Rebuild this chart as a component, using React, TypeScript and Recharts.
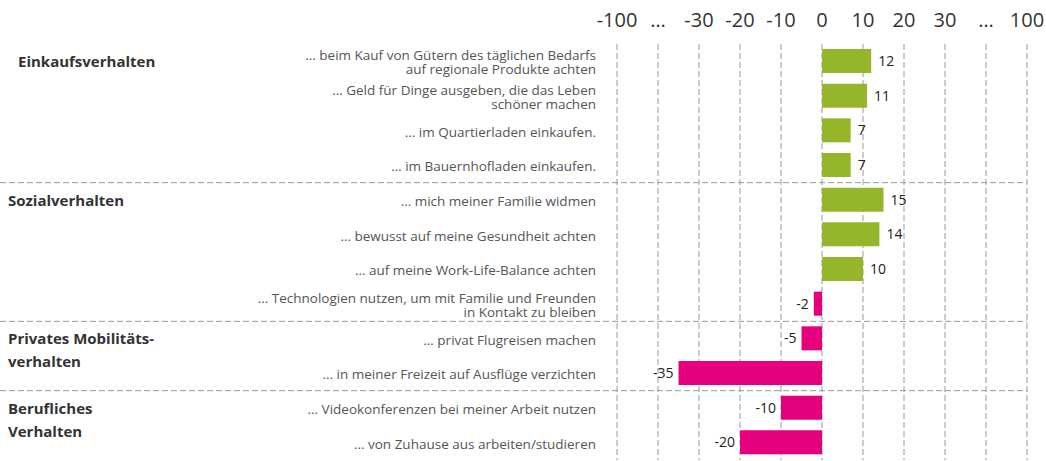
import { BarChart, Bar, XAxis, YAxis, CartesianGrid, Cell, LabelList, ReferenceArea } from 'recharts';

// Aussagen (y-Kategorien), Veränderung in Prozentpunkten
const statements = [
    "… beim Kauf von Gütern des täglichen Bedarfs\nauf regionale Produkte achten",
    "… Geld für Dinge ausgeben, die das Leben\nschöner machen",
    "… im Quartierladen einkaufen.",
    "… im Bauernhofladen einkaufen.",
    "… mich meiner Familie widmen",
    "… bewusst auf meine Gesundheit achten",
    "… auf meine Work-Life-Balance achten",
    "… Technologien nutzen, um mit Familie und Freunden\nin Kontakt zu bleiben",
    "… privat Flugreisen machen",
    "… in meiner Freizeit auf Ausflüge verzichten",
    "... Videokonferenzen bei meiner Arbeit nutzen",
    "… von Zuhause aus arbeiten/studieren",
];
const values = [12, 11, 7, 7, 15, 14, 10, -2, -5, -35, -10, -20];

// Gruppen: Name, erste und letzte Aussage (Index)
const groupNames = ["Einkaufsverhalten", "Sozialverhalten", "Privates Mobilitäts-\nverhalten", "Berufliches\nVerhalten"];
const groupFirst = [0, 4, 8, 10];
const groupLast = [3, 7, 9, 11];

// gebrochene Achse: Position -> Beschriftung
const axisTicks = [-50, -40, -30, -20, -10, 0, 10, 20, 30, 40, 50];
const axisLabels = ["-100", "…", "-30", "-20", "-10", "0", "10", "20", "30", "…", "100"];

const GREEN = "#95b62b";
const MAGENTA = "#e5007e";
const GRID = "#999";
const FONT = "'Open Sans', sans-serif";

const data = statements.map((s, i) => ({ name: s, value: values[i] }));

const XTick = ({ x, y, payload }: any) => {
    const idx = axisTicks.indexOf(payload.value);
    return <text x={x} y={y} textAnchor="middle" fontSize={20} fill="#333" fontFamily={FONT}>{axisLabels[idx]}</text>;
};

const YTick = ({ x, y, payload }: any) => {
    const lines = String(payload.value).split("\n");
    const start = lines.length > 1 ? -7 : 0;
    return <text x={x} y={y} textAnchor="end" fontSize={13.5} fill="#555" fontFamily={FONT}>
        {lines.map((l, i) => <tspan key={i} x={x} y={y + start + i * 13.5 + 6}>{l}</tspan>)}
    </text>;
};

const ValueLabel = ({ x, y, width, height, value }: any) => {
    const left = Math.min(x, x + width);
    const right = Math.max(x, x + width);
    const neg = value < 0;
    return <text x={neg ? left - 5 : right + 7} y={y + height / 2 + 5} textAnchor={neg ? "end" : "start"}
                 fontSize={14} fill="#222" fontFamily={FONT}>{value}</text>;
};

const GroupShape = (gi: number) => ({ x, y, width, height }: any) => {
    const lines = groupNames[gi].split("\n");
    const last = gi === groupNames.length - 1;
    const lx = gi === 0 ? 18 : 8;
    return <g>
        <text x={lx} y={y + 23} fontSize={15} fontWeight={700} fill="#333" fontFamily={FONT}>
            {lines.map((l, i) => <tspan key={i} x={lx} y={y + 23 + i * 23}>{l}</tspan>)}
        </text>
        {!last && <line x1={0} x2={x + width} y1={y + height} y2={y + height} stroke={GRID} strokeDasharray="6 3"/>}
    </g>;
};

export default function App() {
    return <div style={{ position: "absolute", left: 0, top: 0 }}>
        <BarChart width={1046} height={461} data={data} layout="vertical"
                  margin={{ top: 0, right: 19, bottom: 1, left: 0 }}>
            <CartesianGrid vertical horizontal={false} stroke={GRID} strokeDasharray="6 3"/>
            <XAxis type="number" orientation="top" domain={[-50, 50]} ticks={axisTicks} height={44}
                   axisLine={false} tickLine={false} tickSize={0} tickMargin={17} tick={<XTick/>} interval={0}/>
            <YAxis type="category" dataKey="name" width={617} axisLine={false} tickLine={false}
                   tickSize={0} tickMargin={21} tick={<YTick/>} interval={0}/>
            {groupNames.map((g, gi) => (
                <ReferenceArea key={g} y1={statements[groupFirst[gi]]} y2={statements[groupLast[gi]]}
                               shape={GroupShape(gi)} ifOverflow="visible"/>
            ))}
            <Bar dataKey="value" barSize={24} isAnimationActive={false}>
                {data.map((d, i) => <Cell key={i} fill={d.value < 0 ? MAGENTA : GREEN}/>)}
                <LabelList dataKey="value" content={<ValueLabel/>}/>
            </Bar>
        </BarChart>
    </div>;
}
